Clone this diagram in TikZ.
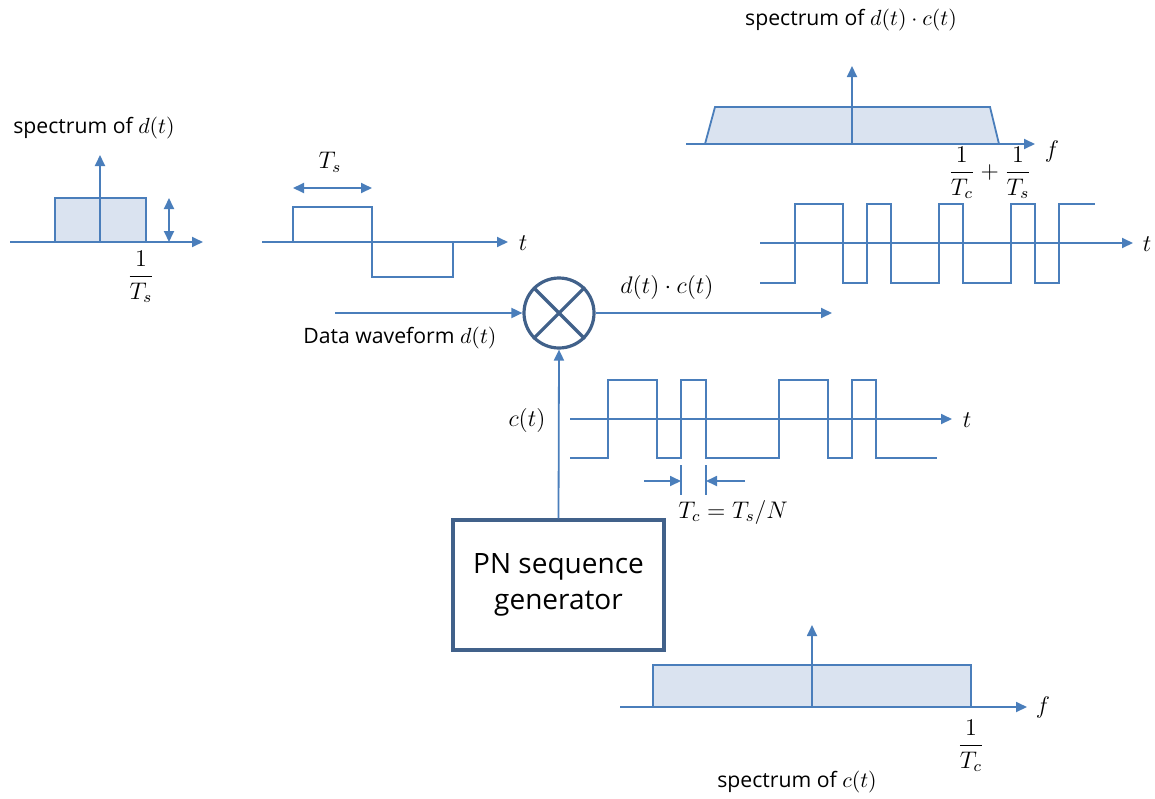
\documentclass[tikz,border=0pt]{standalone}
\usepackage{fontspec}
\setmainfont{Open Sans}
\usetikzlibrary{arrows.meta}
\definecolor{lb}{HTML}{4A7EBB}
\definecolor{db}{HTML}{41618A}
\definecolor{fl}{HTML}{DAE3F0}
\begin{document}
\begin{tikzpicture}[x=0.5pt,y=-0.5pt,
  sig/.style={draw=lb,line width=0.9pt,line join=miter},
  ax/.style={sig,-{Triangle[length=5.5pt,width=5pt]}},
  dax/.style={sig,{Triangle[length=5.5pt,width=5pt]}-{Triangle[length=5.5pt,width=5pt]}},
  spec/.style={sig,fill=fl},
  lbl/.style={inner sep=0pt,font=\fontsize{10.6}{12}\selectfont},
  mlbl/.style={inner sep=0pt,font=\fontsize{11.5}{13}\selectfont},
  heavy/.style={draw=db,line width=1.6pt}]
\useasboundingbox (0,0) rectangle (1155,798);

% ---------- left spectrum of d(t)
\draw[spec] (55,242) rectangle (146,198);
\coordinate (a1s) at (10,242); \coordinate (a1e) at (203,242);
\draw[ax] (a1s) -- (a1e);
\coordinate (v1s) at (100,242); \coordinate (v1e) at (100,155);
\draw[ax] (v1s) -- (v1e);
\coordinate (h1a) at (169,198); \coordinate (h1b) at (169,242);
\draw[dax] (h1a) -- (h1b);
\node[mlbl] (f1) at (141,277) {$\displaystyle\frac{1}{T_s}$};
\node[lbl] (sp1) at (94,128) {spectrum of $d(t)$};

% ---------- data waveform
\coordinate (a2s) at (262,242); \coordinate (a2e) at (508,242);
\draw[ax] (a2s) -- (a2e);
\node[mlbl] (t2) at (523,243) {$t$};
\draw[sig] (293,242) -- (293,207) -- (372,207) -- (372,277) -- (453,277) -- (453,242);
\coordinate (ts1) at (293,188); \coordinate (ts2) at (372,188);
\draw[dax] (ts1) -- (ts2);
\node[mlbl] (tsl) at (330,162) {$T_s$};

% ---------- multiplier
\node[heavy,circle,minimum size=35pt,inner sep=0pt] (mul) at (559,313) {};
\draw[heavy] (mul.45) -- (mul.225);
\draw[heavy] (mul.135) -- (mul.315);
\coordinate (din) at (335,313);
\draw[ax] (din) -- (mul.west);
\node[lbl,anchor=west] (dl) at (303,338) {Data waveform $d(t)$};
\coordinate (dout) at (832,313);
\draw[ax] (mul.east) -- (dout);
\node[mlbl] (pl) at (667,287) {$d(t)\cdot c(t)$};

% ---------- PN generator
\node[heavy,draw,minimum width=105.5pt,minimum height=65pt,inner sep=0pt,align=center,
      font=\fontsize{14}{18}\selectfont] (pn) at (558.5,585) {PN sequence\\generator};
\draw[ax] (pn.north) -- (mul.south);

% ---------- c(t) waveform
\coordinate (a3s) at (570,419); \coordinate (a3e) at (952,419);
\draw[ax] (a3s) -- (a3e);
\node[mlbl] (t3) at (967,420) {$t$};
\node[mlbl] (cl) at (527,420) {$c(t)$};
\draw[sig] (570,458) -- (608,458) -- (608,380) -- (657,380) -- (657,458) -- (681,458)
  -- (681,380) -- (706,380) -- (706,458) -- (779,458) -- (779,380) -- (828,380)
  -- (828,458) -- (852,458) -- (852,380) -- (876,380) -- (876,458) -- (937,458);
\draw[sig] (681,465) -- (681,495);
\draw[sig] (706,465) -- (706,495);
\coordinate (tca) at (644,481); \coordinate (tcb) at (681,481);
\coordinate (tcc) at (745,481); \coordinate (tcd) at (706,481);
\draw[ax] (tca) -- (tcb);
\draw[ax] (tcc) -- (tcd);
\node[mlbl] (tcl) at (733,512) {$T_c=T_s/N$};

% ---------- bottom spectrum of c(t)
\draw[spec] (653,707) rectangle (971,665);
\coordinate (a4s) at (620,707); \coordinate (a4e) at (1027,707);
\draw[ax] (a4s) -- (a4e);
\coordinate (v4s) at (812,707); \coordinate (v4e) at (812,625);
\draw[ax] (v4s) -- (v4e);
\node[mlbl] (f4) at (1043,707) {$f$};
\node[mlbl] (f4l) at (971,746) {$\displaystyle\frac{1}{T_c}$};
\node[lbl] (sp4) at (797,782) {spectrum of $c(t)$};

% ---------- top-right spectrum of d(t)c(t)
\draw[spec] (705,144) -- (715,107) -- (990,107) -- (999,144) -- cycle;
\coordinate (a5s) at (686,144); \coordinate (a5e) at (1035,144);
\draw[ax] (a5s) -- (a5e);
\coordinate (v5s) at (852,144); \coordinate (v5e) at (852,66);
\draw[ax] (v5s) -- (v5e);
\node[mlbl] (f5) at (1052,151) {$f$};
\node[mlbl] (f5l) at (990,173) {$\displaystyle\frac{1}{T_c}+\frac{1}{T_s}$};
\node[lbl] (sp5) at (851,20) {spectrum of $d(t)\cdot c(t)$};

% ---------- product waveform
\coordinate (a6s) at (760,243); \coordinate (a6e) at (1133,243);
\draw[ax] (a6s) -- (a6e);
\node[mlbl] (t6) at (1147,244) {$t$};
\draw[sig] (760,283) -- (795,283) -- (795,204) -- (843,204) -- (843,283) -- (867,283)
  -- (867,204) -- (891,204) -- (891,283) -- (939,283) -- (939,204) -- (963,204)
  -- (963,283) -- (1011,283) -- (1011,204) -- (1035,204) -- (1035,283) -- (1059,283)
  -- (1059,204) -- (1095,204);
\end{tikzpicture}
\end{document}
